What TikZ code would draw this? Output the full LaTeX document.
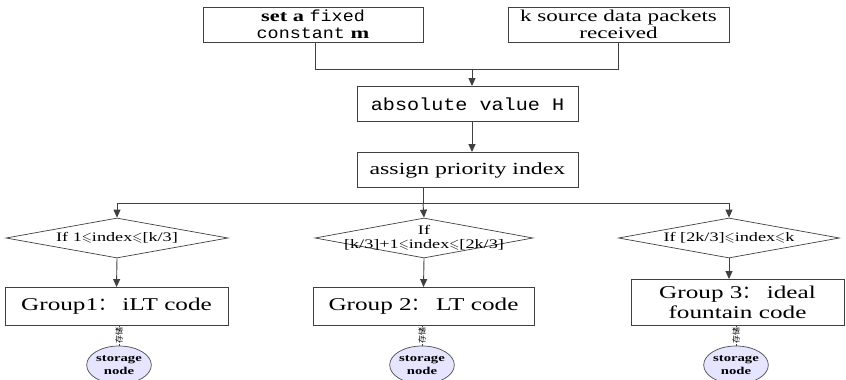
\documentclass[tikz,border=0pt]{standalone}
\usepackage{amssymb}
\usepackage{fontspec}
\setmainfont[FakeStretch=1.4]{Liberation Serif}
\setmonofont[FakeStretch=1.15]{Liberation Mono}
\newfontfamily\cjk{Noto Sans CJK SC}
\usetikzlibrary{arrows.meta,shapes.geometric}
\begin{document}
\begin{tikzpicture}[x=1pt,y=-1pt,
  line/.style={draw=black!75, line width=0.9pt},
  arr/.style={line, -{Triangle[length=8pt,width=7pt]}},
  box/.style={draw=black!75, line width=0.9pt, minimum height=35pt, inner sep=0pt, align=center},
  dia/.style={draw=black!75, line width=0.7pt, diamond, aspect=5.5, inner sep=0pt, minimum width=222pt, minimum height=40pt},
  diatext/.style={font=\fontsize{13}{13.5}\selectfont, align=center, inner sep=0pt},
  grp/.style={box, minimum height=38pt, font=\fontsize{18}{19}\selectfont},
  store/.style={draw=black!70, line width=0.7pt, fill=blue!10!white, ellipse, minimum width=54pt, minimum height=38pt, inner sep=0pt, font=\fontsize{10.5}{12.5}\selectfont\bfseries, align=center},
  lab/.style={font=\cjk\fontsize{8}{8}\selectfont, rotate=90, fill=white, inner sep=0.5pt}
]
\useasboundingbox (0,0) rectangle (846,380);
\node[box, minimum width=220pt, font=\fontsize{16}{17}\selectfont] (fix) at (313,24.5)
  {\textbf{set a} \texttt{fixed}\\ \texttt{constant} \textbf{m}};
\node[box, minimum width=221pt, font=\fontsize{16.5}{17}\selectfont] (src) at (618.5,24.5)
  {k source data packets\\ received};
\node[box, minimum width=221pt, font=\fontsize{17.5}{17}\selectfont\ttfamily] (abs) at (467.5,104) {absolute value H};
\node[box, minimum width=221pt, font=\fontsize{17}{17}\selectfont] (pri) at (467.5,170) {assign priority index};

\coordinate (j) at (472,69);
\coordinate (fixb) at (315,42);
\draw[line] (fixb) |- (j);
\draw[line] (src.south) |- (j);
\draw[arr] (j) -- (j |- abs.north);
\draw[arr] (abs.south -| j) -- (pri.north -| j);

\node[dia] (d1) at (117,238) {};
\node[dia, minimum width=218pt] (d2) at (424,238) {};
\node[dia, minimum width=221pt] (d3) at (729,238) {};
\node[diatext] (t1) at (d1) {If 1$\leqslant$index$\leqslant$[k/3]};
\node[diatext] (t2) at (d2) {If\\{}[k/3]+1$\leqslant$index$\leqslant$[2k/3]};
\node[diatext] (t3) at (d3) {If [2k/3]$\leqslant$index$\leqslant$k};

\coordinate (br) at (423,203);
\draw[line] (pri.south -| br) -- (br);
\draw[line] (d1.north |- br) -- (d3.north |- br);
\draw[arr] (d1.north |- br) -- (d1.north);
\draw[arr] (br) -- (d2.north);
\draw[arr] (d3.north |- br) -- (d3.north);

\node[grp, minimum width=223pt] (g1) at (116.5,306.5) {Group1{\cjk ：} iLT code};
\node[grp, minimum width=221pt] (g2) at (423.5,306.5) {Group 2{\cjk ：} LT code};
\node[grp, minimum width=213pt, minimum height=46pt, font=\fontsize{18}{20}\selectfont] (g3) at (737.5,302.5) {Group 3{\cjk ：} ideal\\ fountain code};

\draw[arr] (d1.south) -- (g1.north);
\draw[arr] (d2.south) -- (g2.north);
\draw[arr] (d3.south) -- (d3.south |- g3.north);

\node[store] (s1) at (119,365) {storage\\node};
\node[store] (s2) at (422,365) {storage\\node};
\node[store] (s3) at (736,365) {storage\\node};

\foreach \g/\s in {g1/s1,g2/s2,g3/s3}{
  \draw[line, line width=0.6pt] (\s.north |- \g.south) -- (\s.north) node[midway, lab] {存储};
}
\end{tikzpicture}
\end{document}
